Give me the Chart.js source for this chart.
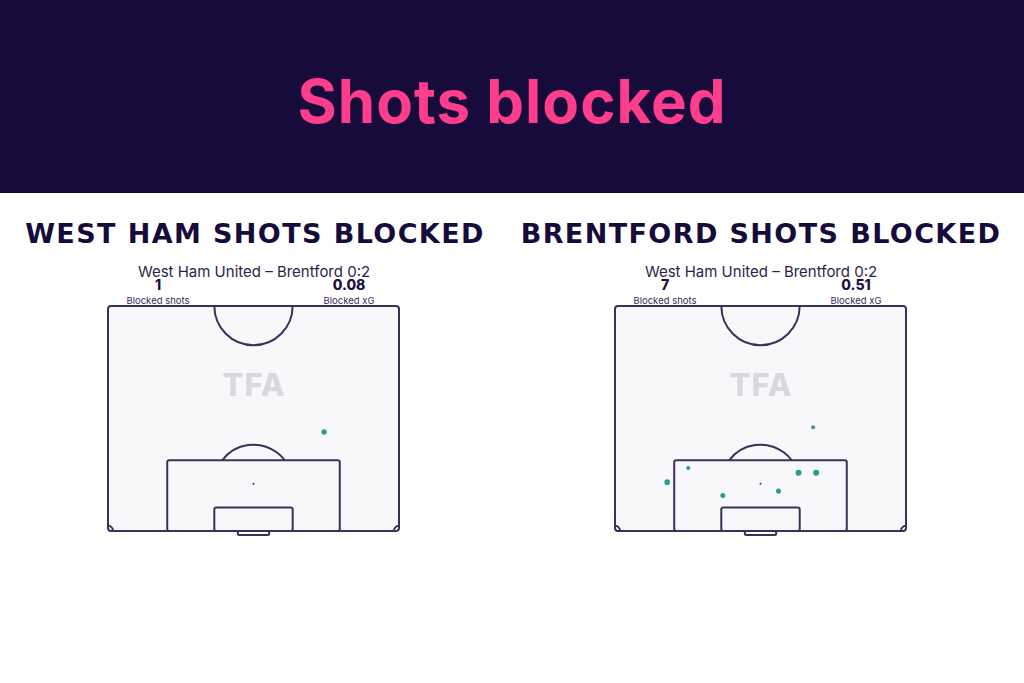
<!DOCTYPE html>
<html>
<head>
<meta charset="utf-8">
<script src="https://cdn.jsdelivr.net/npm/chart.js@4"></script>
<style>
  body { margin: 0; width: 1024px; height: 683px; background: #fff; position: relative; overflow: hidden; font-family: "Inter", sans-serif; color: #1e1240; }
  .band { position: absolute; left: 0; top: 0; width: 1024px; height: 193px; background: #170b3b; }
  .txt { position: absolute; white-space: nowrap; transform: translate(-50%, -50%); line-height: 1; }
  .title { left: 512px; top: 101px; color: #ff3d8d; font-weight: 700; font-size: 60px; letter-spacing: 1px; }
  .heading { top: 233px; font-family: "DejaVu Sans", sans-serif; font-weight: 700; font-size: 27px; letter-spacing: 1.4px; color: #170b3b; }
  .match { top: 271px; font-size: 15px; color: #2c1f4a; }
  .num { top: 285px; font-size: 14px; font-weight: 800; color: #1e1240; }
  .lbl { top: 301px; font-size: 9.5px; color: #3a2d58; }
  .tfa { top: 384px; font-size: 31px; font-weight: 800; color: #d9d7e1; letter-spacing: 1px; }
  canvas { position: absolute; }
</style>
</head>
<body>
<div class="band"></div>
<div class="txt title">Shots blocked</div>

<div class="txt heading" style="left:255px">WEST HAM SHOTS BLOCKED</div>
<div class="txt heading" style="left:761px">BRENTFORD SHOTS BLOCKED</div>

<div class="txt match" style="left:254px">West Ham United – Brentford 0:2</div>
<div class="txt match" style="left:761px">West Ham United – Brentford 0:2</div>

<div class="txt num" id="countLeft" style="left:158px"></div>
<div class="txt num" id="xgLeft" style="left:349px"></div>
<div class="txt lbl" style="left:158px">Blocked shots</div>
<div class="txt lbl" style="left:349px">Blocked xG</div>

<div class="txt num" id="countRight" style="left:665px"></div>
<div class="txt num" id="xgRight" style="left:856px"></div>
<div class="txt lbl" style="left:665px">Blocked shots</div>
<div class="txt lbl" style="left:856px">Blocked xG</div>

<canvas id="pitchLeft" width="312" height="250" style="left:100px;top:296px"></canvas>
<canvas id="pitchRight" width="312" height="250" style="left:607px;top:296px"></canvas>

<div class="txt tfa" style="left:254px">TFA</div>
<div class="txt tfa" style="left:761px">TFA</div>

<script>
  // Shot locations in metres: x across the pitch (0-68), y out from the goal line (0-52.5)
  const westHamShotX = [50.5];
  const westHamShotY = [23.1];
  const westHamShotXg = [0.08];

  const brentfordShotX = [46.3, 17.1, 42.9, 47.0, 12.2, 38.2, 25.2];
  const brentfordShotY = [24.2, 14.7, 13.6, 13.6, 11.4, 9.3, 8.3];
  const brentfordShotXg = [0.04, 0.04, 0.10, 0.10, 0.09, 0.07, 0.07];

  const lineColor = '#3d2f5b';
  const shotColor = '#2a9d8c';

  // Draws the half pitch with the goal at the bottom
  const pitchPlugin = {
    id: 'pitch',
    beforeDatasetsDraw(chart) {
      const ctx = chart.ctx;
      const x = chart.scales.x, y = chart.scales.y;
      const px = v => x.getPixelForValue(v);
      const py = v => y.getPixelForValue(v);
      const sx = x.getPixelForValue(1) - x.getPixelForValue(0);

      ctx.save();
      ctx.lineWidth = 2;
      ctx.strokeStyle = lineColor;
      ctx.lineJoin = 'round';

      // outer lines
      ctx.beginPath();
      ctx.roundRect(px(0), py(52.5), px(68) - px(0), py(0) - py(52.5), 3);
      ctx.fillStyle = '#f8f8fa';
      ctx.fill();
      ctx.stroke();

      // centre circle (half)
      ctx.beginPath();
      ctx.arc(px(34), py(52.5), 9.15 * sx, 0, Math.PI);
      ctx.stroke();

      // penalty area
      ctx.beginPath();
      ctx.roundRect(px(13.84), py(16.5), px(54.16) - px(13.84), py(0) - py(16.5), 2);
      ctx.stroke();

      // six yard box
      ctx.beginPath();
      ctx.roundRect(px(24.84), py(5.5), px(43.16) - px(24.84), py(0) - py(5.5), 2);
      ctx.stroke();

      // penalty arc
      const a = Math.asin((16.5 - 11) / 9.15);
      ctx.beginPath();
      ctx.arc(px(34), py(11), 9.15 * sx, Math.PI + a, 2 * Math.PI - a);
      ctx.stroke();

      // penalty spot
      ctx.beginPath();
      ctx.arc(px(34), py(11), 1, 0, 2 * Math.PI);
      ctx.fillStyle = lineColor;
      ctx.fill();

      // corner arcs
      ctx.beginPath();
      ctx.arc(px(0), py(0), 1.2 * sx, -Math.PI / 2, 0);
      ctx.stroke();
      ctx.beginPath();
      ctx.arc(px(68), py(0), 1.2 * sx, Math.PI, 1.5 * Math.PI);
      ctx.stroke();

      // goal
      ctx.beginPath();
      ctx.roundRect(px(30.34), py(0), px(37.66) - px(30.34), 4, 1.5);
      ctx.stroke();

      ctx.restore();
    }
  };

  function drawPitch(canvasId, xs, ys, xgs) {
    const points = xs.map((v, i) => ({ x: v, y: ys[i] }));
    new Chart(document.getElementById(canvasId), {
      type: 'scatter',
      data: {
        datasets: [{
          data: points,
          backgroundColor: shotColor,
          borderWidth: 0,
          pointRadius: xgs.map(v => 1.4 + 16 * v),
          pointHoverRadius: xgs.map(v => 1.4 + 16 * v)
        }]
      },
      options: {
        responsive: false,
        animation: false,
        layout: { padding: { left: 8, top: 10, right: 13, bottom: 15 } },
        scales: {
          x: { type: 'linear', min: 0, max: 68, display: false },
          y: { type: 'linear', min: 0, max: 52.5, display: false }
        },
        plugins: {
          legend: { display: false },
          tooltip: { enabled: false }
        }
      },
      plugins: [pitchPlugin]
    });
  }

  function fillSummary(countId, xgId, xgs) {
    document.getElementById(countId).textContent = xgs.length;
    document.getElementById(xgId).textContent = xgs.reduce((s, v) => s + v, 0).toFixed(2);
  }

  drawPitch('pitchLeft', westHamShotX, westHamShotY, westHamShotXg);
  drawPitch('pitchRight', brentfordShotX, brentfordShotY, brentfordShotXg);
  fillSummary('countLeft', 'xgLeft', westHamShotXg);
  fillSummary('countRight', 'xgRight', brentfordShotXg);
</script>
</body>
</html>
